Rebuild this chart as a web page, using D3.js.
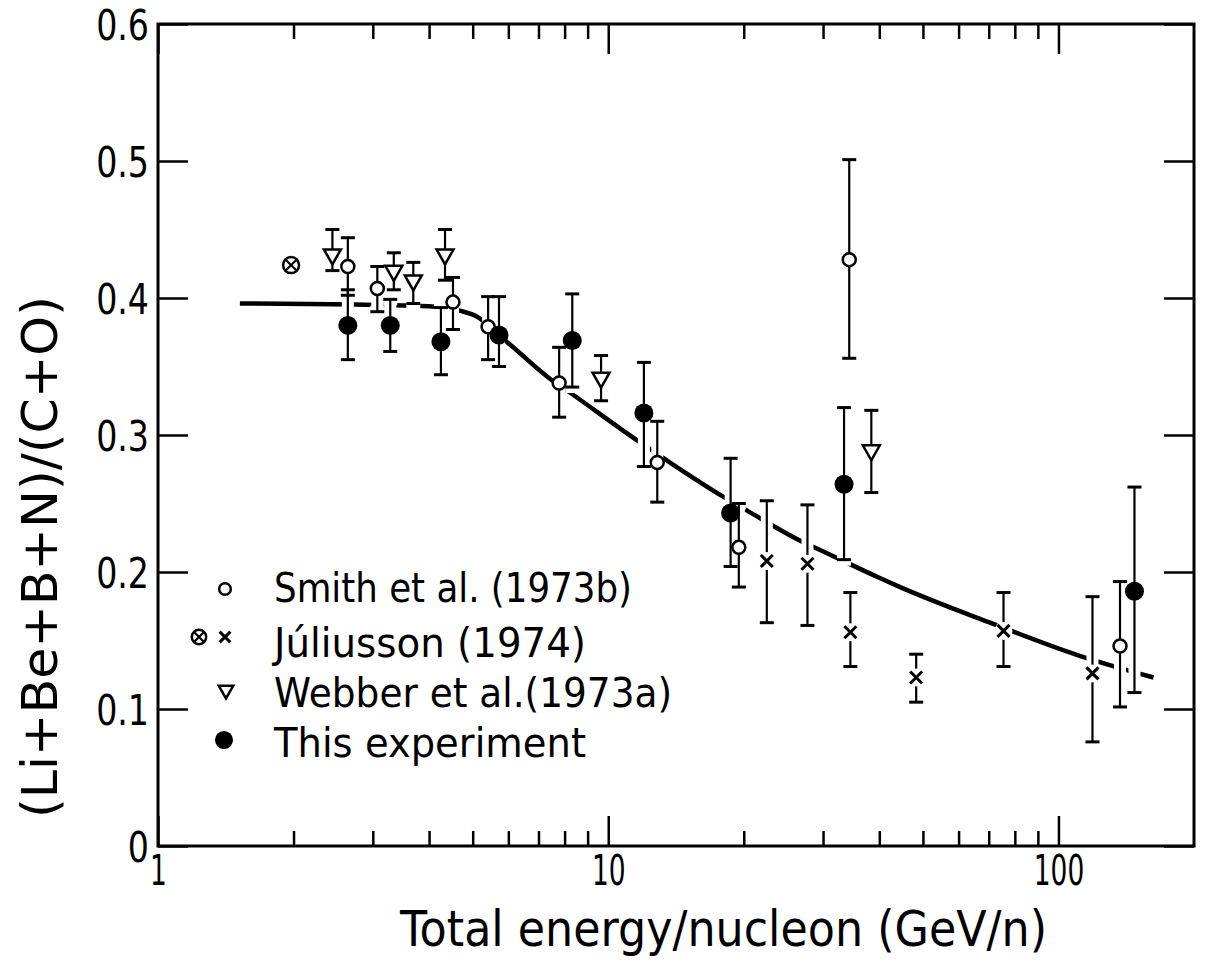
<!DOCTYPE html>
<html><head><meta charset="utf-8">
<script src="https://cdn.jsdelivr.net/npm/d3@7"></script>
<style>body{margin:0;background:#fff} svg{display:block;background:#fff}</style>
</head><body>
<svg id="chart" width="1206" height="962"></svg>
<script>
// ---------- data ----------
const smithX  = [2.64, 3.07, 4.52, 5.41, 7.78, 12.85, 19.5, 34.3, 137];
const smithY  = [0.423, 0.407, 0.397, 0.379, 0.338, 0.280, 0.218, 0.428, 0.146];
const smithHi = [0.444, 0.423, 0.415, 0.401, 0.364, 0.310, 0.250, 0.501, 0.193];
const smithLo = [0.402, 0.390, 0.377, 0.355, 0.313, 0.251, 0.189, 0.356, 0.1015];

const webberX  = [2.44, 3.34, 3.69, 4.34, 9.64, 38.4];
const webberY  = [0.430, 0.418, 0.411, 0.430, 0.340, 0.287];
const webberHi = [0.450, 0.433, 0.426, 0.450, 0.358, 0.318];
const webberLo = [0.420, 0.406, 0.396, 0.413, 0.325, 0.258];

const thisX  = [2.64, 3.28, 4.25, 5.72, 8.32, 12.0, 18.7, 33.4, 147.5];
const thisY  = [0.380, 0.380, 0.368, 0.373, 0.369, 0.316, 0.243, 0.264, 0.186];
const thisHi = [0.406, 0.399, 0.393, 0.401, 0.403, 0.353, 0.283, 0.320, 0.262];
const thisLo = [0.355, 0.361, 0.344, 0.350, 0.335, 0.277, 0.204, 0.209, 0.112];

const julX  = [22.5, 27.7, 34.5, 48.3, 75.5, 119];
const julY  = [0.208, 0.206, 0.156, 0.123, 0.157, 0.126];
const julHi = [0.252, 0.249, 0.185, 0.140, 0.185, 0.182];
const julLo = [0.163, 0.161, 0.131, 0.105, 0.131, 0.076];

const julCircX = [1.975];
const julCircY = [0.424];

const fitX = [1.52, 3.98, 4.99, 6.05, 7.36, 8.22, 11.6, 13.7, 18.0, 20.3, 27.4, 28.9, 40.1, 44.5, 70.5, 111, 162.6];
const fitY = [0.396, 0.394, 0.388, 0.366, 0.342, 0.331, 0.296, 0.280, 0.255, 0.245, 0.221, 0.2175, 0.1956, 0.189, 0.163, 0.139, 0.123];

const xMinorTicks = [2,3,4,5,6,7,8,9,20,30,40,50,60,70,80,90];
const xMajorTicks = [1,10,100];
const xTickLabels = ["1","10","100"];
const yTicks = [0,0.1,0.2,0.3,0.4,0.5,0.6];
const yTickLabels = ["0","0.1","0.2","0.3","0.4","0.5","0.6"];

const legendLabels = ["Smith et al. (1973b)", "J\u00faliusson (1974)", "Webber et al.(1973a)", "This experiment"];
const xTitle = "Total energy/nucleon (GeV/n)";
const yTitle = "(Li+Be+B+N)/(C+O)";

// ---------- drawing ----------
const svg = d3.select("#chart");
const x = d3.scaleLog().domain([1, 200]).range([158, 1194]);
const y = d3.scaleLinear().domain([0, 0.6]).range([846, 24]);
const narrow = "'Liberation Sans Narrow','DejaVu Sans Condensed','Roboto Condensed',sans-serif";
const letter = "'DejaVu Sans','Noto Sans',sans-serif";

function squeeze(sel, ratio) {
  sel.each(function () {
    const l = this.getComputedTextLength();
    if (l > 0) d3.select(this).attr("textLength", l * ratio).attr("lengthAdjust", "spacingAndGlyphs");
  });
}

const allX = xMajorTicks.concat(xMinorTicks);
const isMajor = d => xMajorTicks.includes(d);

// bottom axis
const gB = svg.append("g").attr("transform", `translate(0,${y(0)})`)
  .call(d3.axisBottom(x).tickValues(allX).tickSize(-15).tickPadding(9)
    .tickFormat(d => { const i = xMajorTicks.indexOf(d); return i >= 0 ? xTickLabels[i] : ""; }));
gB.selectAll(".tick line").attr("y2", d => isMajor(d) ? -30 : -15);
// top axis
const gT = svg.append("g").attr("transform", `translate(0,${y(0.6)})`)
  .call(d3.axisTop(x).tickValues(allX).tickSize(-15).tickFormat(""));
gT.selectAll(".tick line").attr("y2", d => isMajor(d) ? 30 : 15);
// left axis
const gL = svg.append("g").attr("transform", `translate(${x(1)},0)`)
  .call(d3.axisLeft(y).tickValues(yTicks).tickSize(-30).tickPadding(9)
    .tickFormat((d, i) => yTickLabels[i]));
// right axis
const gR = svg.append("g").attr("transform", `translate(${x(200)},0)`)
  .call(d3.axisRight(y).tickValues(yTicks).tickSize(-30).tickFormat(""));

[gB, gT, gL, gR].forEach(g => {
  g.select(".domain").remove();
  g.selectAll(".tick line").attr("stroke", "#000").attr("stroke-width", 2.5);
  g.attr("font-family", narrow).attr("font-size", 42);
  g.selectAll("text").attr("fill", "#000");
});
gL.selectAll("text").attr("dy", "0.37em");
squeeze(gL.selectAll("text"), 0.88);
squeeze(gB.selectAll("text"), 0.7);

// frame
svg.append("rect").attr("x", x(1)).attr("y", y(0.6))
  .attr("width", x(200) - x(1)).attr("height", y(0) - y(0.6))
  .attr("fill", "none").attr("stroke", "#000").attr("stroke-width", 3);

// fit curve
const fitData = fitX.map((v, i) => [v, fitY[i]]);
svg.append("path").datum(fitData)
  .attr("d", d3.line().x(d => x(d[0])).y(d => y(d[1])).curve(d3.curveMonotoneX))
  .attr("fill", "none").attr("stroke", "#000").attr("stroke-width", 4.5);

// series
const series = [
  {X: smithX, Y: smithY, Hi: smithHi, Lo: smithLo, type: "open"},
  {X: webberX, Y: webberY, Hi: webberHi, Lo: webberLo, type: "tri"},
  {X: thisX, Y: thisY, Hi: thisHi, Lo: thisLo, type: "filled"},
  {X: julX, Y: julY, Hi: julHi, Lo: julLo, type: "cross"}
];
const capW = 7;
function drawBars(g, s, color, width, capWidth) {
  s.X.forEach((xv, i) => {
    const px = x(xv);
    g.append("line").attr("x1", px).attr("x2", px).attr("y1", y(s.Hi[i])).attr("y2", y(s.Lo[i]))
      .attr("stroke", color).attr("stroke-width", width);
    [s.Hi[i], s.Lo[i]].forEach(v => {
      g.append("line").attr("x1", px - capW).attr("x2", px + capW).attr("y1", y(v)).attr("y2", y(v))
        .attr("stroke", color).attr("stroke-width", capWidth);
    });
  });
}
const halo = svg.append("g");
series.forEach(s => drawBars(halo, s, "#fff", 12, 12));
const bars = svg.append("g");
series.forEach(s => drawBars(bars, s, "#000", 2.2, 3));

const triPath = (cx, cy, w, h) => `M${cx - w/2},${cy - h/2}L${cx + w/2},${cy - h/2}L${cx},${cy + h/2}Z`;
function marker(g, type, cx, cy, scale) {
  const k = scale || 1;
  if (type === "open") {
    g.append("circle").attr("cx", cx).attr("cy", cy).attr("r", 6.5 * k)
      .attr("fill", "#fff").attr("stroke", "#000").attr("stroke-width", 2.5);
  } else if (type === "filled") {
    g.append("circle").attr("cx", cx).attr("cy", cy).attr("r", 9.5 * k).attr("fill", "#000");
  } else if (type === "tri") {
    g.append("path").attr("d", triPath(cx, cy, 17 * k, 15 * k))
      .attr("fill", "#fff").attr("stroke", "#000").attr("stroke-width", 2.5).attr("stroke-linejoin", "miter");
  } else if (type === "cross") {
    if (k === 1) g.append("circle").attr("cx", cx).attr("cy", cy).attr("r", 9).attr("fill", "#fff");
    const a = 6 * k;
    g.append("path").attr("d", `M${cx - a},${cy - a}L${cx + a},${cy + a}M${cx - a},${cy + a}L${cx + a},${cy - a}`)
      .attr("stroke", "#000").attr("stroke-width", 3).attr("fill", "none");
  } else if (type === "otimes") {
    const r = 8 * k, a = r * 0.62;
    g.append("circle").attr("cx", cx).attr("cy", cy).attr("r", r)
      .attr("fill", "#fff").attr("stroke", "#000").attr("stroke-width", 2.5);
    g.append("path").attr("d", `M${cx - a},${cy - a}L${cx + a},${cy + a}M${cx - a},${cy + a}L${cx + a},${cy - a}`)
      .attr("stroke", "#000").attr("stroke-width", 2.2);
  }
}
const marks = svg.append("g");
series.forEach(s => s.X.forEach((xv, i) => marker(marks, s.type, x(xv), y(s.Y[i]))));
julCircX.forEach((xv, i) => marker(marks, "otimes", x(xv), y(julCircY[i])));

// legend
const legRows = [602, 657, 707, 757];
const legWidths = [358, 312, 398, 312];
const leg = svg.append("g");
legendLabels.forEach((t, i) => {
  leg.append("text").attr("x", 274).attr("y", legRows[i]).text(t)
    .attr("font-family", letter).attr("font-size", 41).attr("fill", "#000")
    .attr("textLength", legWidths[i]).attr("lengthAdjust", "spacingAndGlyphs");
});
marker(leg, "open", 225, legRows[0] - 13, 0.9);
marker(leg, "otimes", 199, legRows[1] - 20, 0.9);
marker(leg, "cross", 225, legRows[1] - 20, 0.9);
marker(leg, "tri", 226, legRows[2] - 15, 0.85);
marker(leg, "filled", 224, legRows[3] - 17, 0.95);

// axis titles
svg.append("text").attr("x", 400).attr("y", 946).text(xTitle)
  .attr("font-family", letter).attr("font-size", 50).attr("fill", "#000")
  .attr("textLength", 647).attr("lengthAdjust", "spacingAndGlyphs");
svg.append("text").attr("transform", "translate(57,557) rotate(-90)")
  .attr("text-anchor", "middle").text(yTitle)
  .attr("font-family", letter).attr("font-size", 50).attr("fill", "#000")
  .attr("textLength", 522).attr("lengthAdjust", "spacingAndGlyphs");
</script>
</body></html>
